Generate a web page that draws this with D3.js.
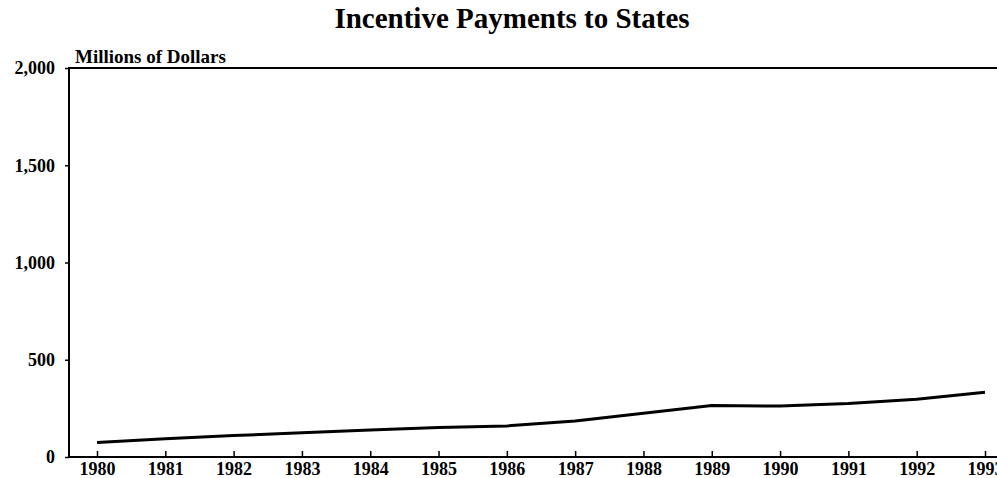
<!DOCTYPE html>
<html>
<head>
<title>Incentive Payments to States</title>
<script src="https://d3js.org/d3.v7.min.js"></script>
<style>
  body { margin: 0; background: #fff; }
  text { font-family: "Liberation Serif", "Times New Roman", serif; font-weight: bold; fill: #000; }
</style>
</head>
<body>
<script type="text/javascript">
var width = 997,
    height = 478;

var years = [1980, 1981, 1982, 1983, 1984, 1985, 1986, 1987, 1988, 1989, 1990, 1991, 1992, 1993];
var payments = [75, 94, 110, 125, 139, 152, 160, 185, 225, 265, 262, 275, 297, 333];
var yTicks = [0, 500, 1000, 1500, 2000];

var plotLeft = 69, plotTop = 68, plotBottom = 457, plotRight = 997;

var svg = d3.select("body").append("svg")
    .attr("width", width)
    .attr("height", height);

var x = d3.scaleLinear().domain([1980, 1993]).range([97, 985]);
var y = d3.scaleLinear().domain([0, 2000]).range([plotBottom, plotTop]);

svg.append("text")
    .attr("x", 512)
    .attr("y", 28)
    .attr("text-anchor", "middle")
    .style("font-size", "29px")
    .text("Incentive Payments to States");

svg.append("text")
    .attr("x", 75)
    .attr("y", 63)
    .style("font-size", "19px")
    .text("Millions of Dollars");

// frame: top, left, bottom
svg.append("path")
    .attr("d", "M" + plotRight + "," + plotTop + "H" + plotLeft + "V" + plotBottom + "H" + plotRight)
    .attr("fill", "none")
    .attr("stroke", "#000")
    .attr("stroke-width", 2);

var yAxis = d3.axisLeft(y).tickValues(yTicks).tickSize(4).tickPadding(10)
    .tickFormat(d3.format(","));
svg.append("g")
    .attr("transform", "translate(" + plotLeft + ",0)")
    .call(yAxis)
    .call(function(g) { g.select(".domain").remove(); })
    .call(function(g) {
        g.selectAll("text").style("font-size", "18px").style("font-family", null);
        g.selectAll("line").attr("stroke-width", 1.5);
    });

// x axis, ticks pointing into the plot
var xAxis = d3.axisBottom(x).tickValues(years).tickSize(-6).tickPadding(5)
    .tickFormat(d3.format("d"));
svg.append("g")
    .attr("transform", "translate(0," + plotBottom + ")")
    .call(xAxis)
    .call(function(g) { g.select(".domain").remove(); })
    .call(function(g) {
        g.selectAll("text").style("font-size", "18px").style("font-family", null);
        g.selectAll("line").attr("stroke-width", 1.5);
    });

var line = d3.line()
    .x(function(d, i) { return x(years[i]); })
    .y(function(d) { return y(d); });

svg.append("path")
    .datum(payments)
    .attr("d", line)
    .attr("fill", "none")
    .attr("stroke", "#000")
    .attr("stroke-width", 3);
</script>
</body>
</html>
